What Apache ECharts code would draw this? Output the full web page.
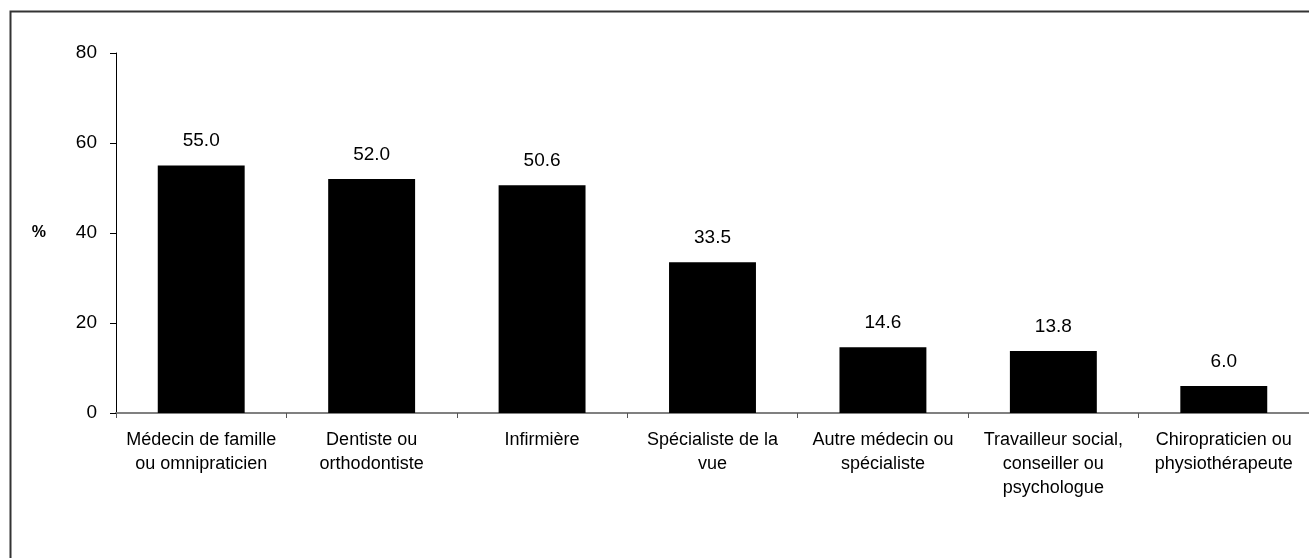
<!DOCTYPE html>
<html>
<head>
<meta charset="utf-8">
<script src="https://cdn.jsdelivr.net/npm/echarts@6/dist/echarts.min.js"></script>
<style>
  html, body { margin: 0; padding: 0; background: #fff; }
  #chart { width: 1309px; height: 558px; }
</style>
</head>
<body>
<div id="chart"></div>
<script>
// Categories (line breaks as printed under the axis)
const categories = [
  'Médecin de famille\nou omnipraticien',
  'Dentiste ou\northodontiste',
  'Infirmière',
  'Spécialiste de la\nvue',
  'Autre médecin ou\nspécialiste',
  'Travailleur social,\nconseiller ou\npsychologue',
  'Chiropraticien ou\nphysiothérapeute'
];
// Percentages shown above each bar
const values = [55.0, 52.0, 50.6, 33.5, 14.6, 13.8, 6.0];
// Value axis ticks
const yTicks = [0, 20, 40, 60, 80];

const FONT = '"Liberation Sans", Arial, sans-serif';

const chart = echarts.init(document.getElementById('chart'), null, { renderer: 'canvas' });

chart.setOption({
  animation: false,
  backgroundColor: '#ffffff',
  textStyle: { fontFamily: FONT, color: '#000' },
  graphic: [{
    type: 'rect',
    shape: { x: 10.5, y: 11.5, width: 1320, height: 570 },
    style: { fill: 'none', stroke: '#333', lineWidth: 2 },
    silent: true
  }],
  grid: { left: 116, top: 53, width: 1202, height: 360, containLabel: false },
  xAxis: {
    type: 'category',
    data: categories,
    axisLine: { lineStyle: { color: '#808080', width: 2 } },
    axisTick: { show: true, length: 5, alignWithLabel: false, lineStyle: { color: '#555', width: 1 } },
    axisLabel: {
      interval: 0,
      margin: 15,
      fontSize: 18,
      lineHeight: 24,
      color: '#000',
      fontFamily: FONT
    },
    splitLine: { show: false }
  },
  yAxis: {
    type: 'value',
    min: yTicks[0],
    max: yTicks[yTicks.length - 1],
    interval: yTicks[1] - yTicks[0],
    name: '%',
    nameLocation: 'middle',
    nameRotate: 0,
    nameGap: 70,
    nameTextStyle: { fontSize: 16, fontWeight: 'bold', color: '#000', fontFamily: FONT },
    axisLine: { show: true, lineStyle: { color: '#000', width: 1 } },
    axisTick: { show: true, length: 6, lineStyle: { color: '#000', width: 1 } },
    axisLabel: { margin: 19, fontSize: 19, color: '#000', fontFamily: FONT },
    splitLine: { show: false }
  },
  series: [{
    type: 'bar',
    data: values,
    barWidth: '51%',
    itemStyle: { color: '#000' },
    label: {
      show: true,
      position: 'top',
      distance: 15,
      fontSize: 19,
      color: '#000',
      fontFamily: FONT,
      formatter: p => p.value.toFixed(1)
    }
  }]
});
</script>
</body>
</html>
